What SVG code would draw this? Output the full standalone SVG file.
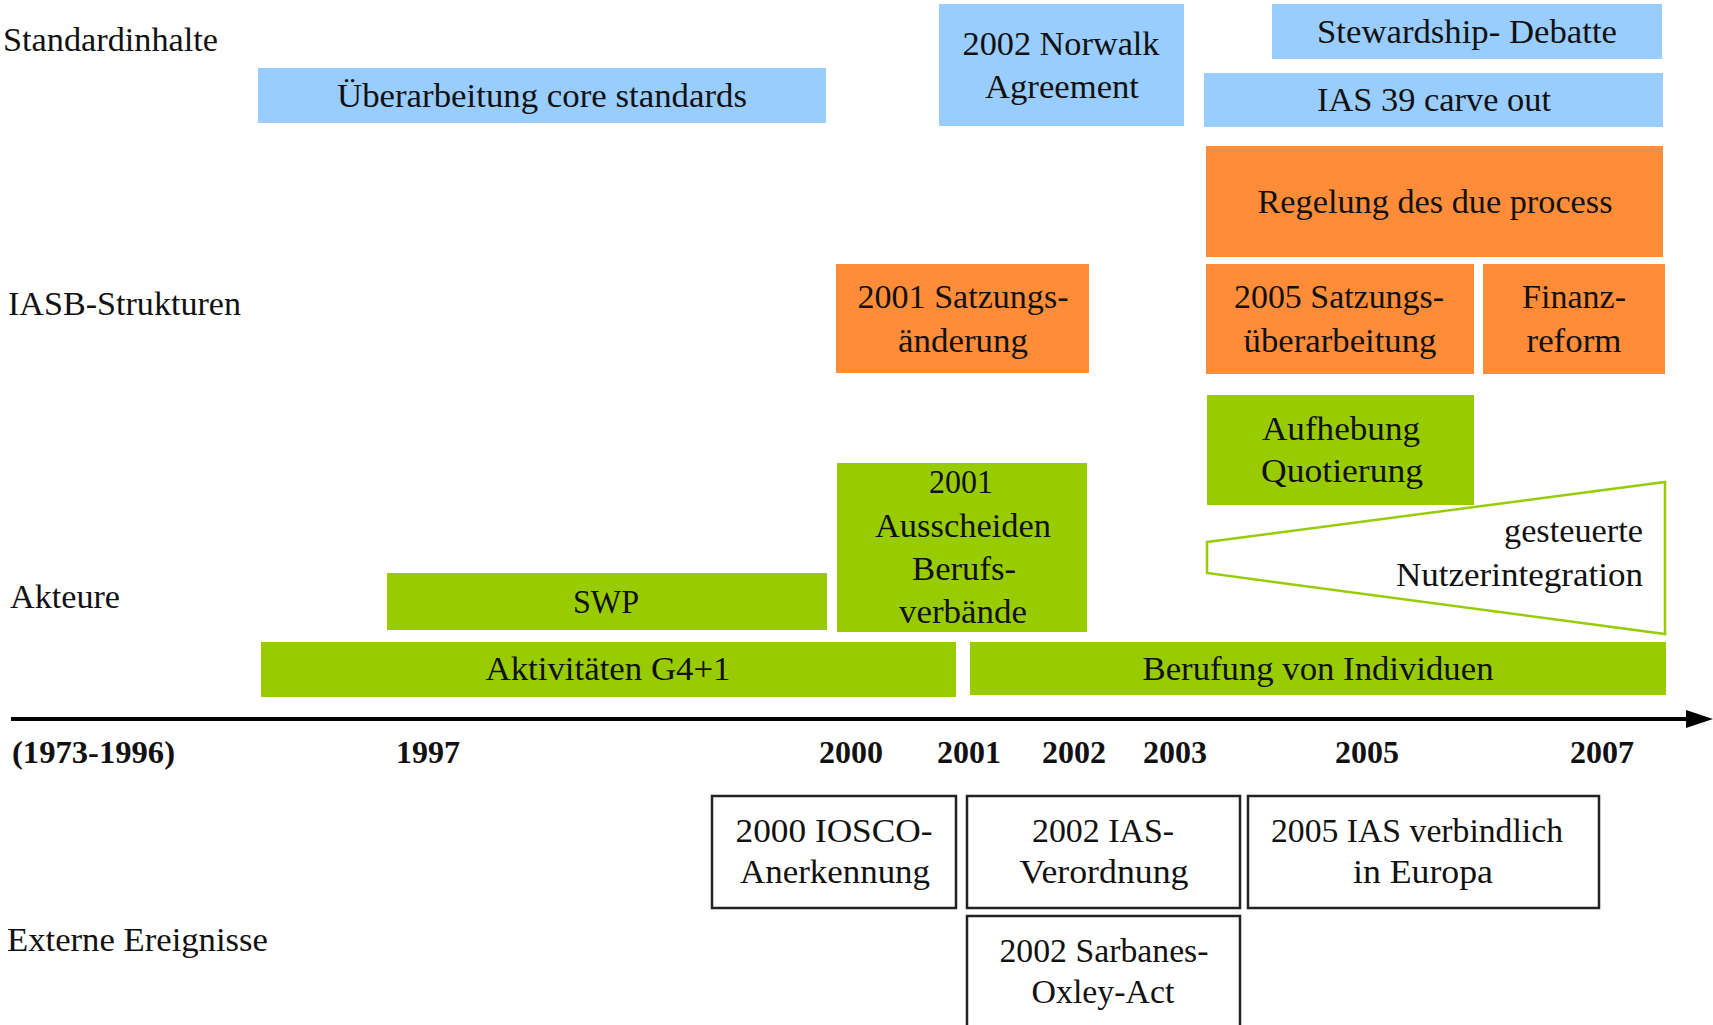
<svg xmlns="http://www.w3.org/2000/svg" width="1713" height="1025" viewBox="0 0 1713 1025" font-family="'Liberation Serif', 'DejaVu Serif', serif">
<style>
text{font-family:"Liberation Serif","DejaVu Serif",serif;font-size:34px;fill:#111}
.m{text-anchor:middle}
.e{text-anchor:end}
.y{font-weight:bold;font-size:32px;text-anchor:middle}
.blue{fill:#99CCFF}
.orange{fill:#FF8C38}
.green{fill:#99CC00}
.ext{fill:#fff;stroke:#222;stroke-width:2.5}
</style>
<defs>
<marker id="arrow" markerUnits="userSpaceOnUse" markerWidth="27" markerHeight="18" refX="14" refY="9" orient="auto">
<path d="M0,0 L27,9 L0,18 Z" fill="#000"/>
</marker>
</defs>
<rect width="1713" height="1025" fill="#fff"/>

<g id="labels">
<text x="3" y="51" textLength="215" lengthAdjust="spacingAndGlyphs">Standardinhalte</text>
<text x="8" y="315" textLength="233" lengthAdjust="spacingAndGlyphs">IASB-Strukturen</text>
<text x="10" y="608" textLength="110" lengthAdjust="spacingAndGlyphs">Akteure</text>
<text x="7" y="951" textLength="261" lengthAdjust="spacingAndGlyphs">Externe Ereignisse</text>
</g>

<g id="connectors">
<line x1="11" y1="719" x2="1700" y2="719" stroke="#000" stroke-width="4" marker-end="url(#arrow)"/>
</g>

<g id="years">
<text x="12" y="763" class="y" style="text-anchor:start" textLength="163" lengthAdjust="spacingAndGlyphs">(1973-1996)</text>
<text x="428" y="763" class="y">1997</text>
<text x="851" y="763" class="y">2000</text>
<text x="969" y="763" class="y">2001</text>
<text x="1074" y="763" class="y">2002</text>
<text x="1175" y="763" class="y">2003</text>
<text x="1367" y="763" class="y">2005</text>
<text x="1602" y="763" class="y">2007</text>
</g>

<g id="ueberarbeitung">
<rect x="258" y="68" width="568" height="55" class="blue"/>
<text x="542" y="107" class="m" textLength="410" lengthAdjust="spacingAndGlyphs">Überarbeitung core standards</text>
</g>
<g id="norwalk">
<rect x="939" y="4" width="245" height="122" class="blue"/>
<text x="1061" y="55" class="m" textLength="197" lengthAdjust="spacingAndGlyphs">2002 Norwalk</text>
<text x="1062" y="98" class="m" textLength="154" lengthAdjust="spacingAndGlyphs">Agreement</text>
</g>
<g id="stewardship">
<rect x="1272" y="4" width="390" height="55" class="blue"/>
<text x="1467" y="43" class="m" textLength="300" lengthAdjust="spacingAndGlyphs">Stewardship- Debatte</text>
</g>
<g id="ias39">
<rect x="1204" y="73" width="459" height="54" class="blue"/>
<text x="1434" y="111" class="m" textLength="234" lengthAdjust="spacingAndGlyphs">IAS 39 carve out</text>
</g>

<g id="dueprocess">
<rect x="1206" y="146" width="457" height="111" class="orange"/>
<text x="1435" y="213" class="m" textLength="355" lengthAdjust="spacingAndGlyphs">Regelung des due process</text>
</g>
<g id="satzung2001">
<rect x="836" y="264" width="253" height="109" class="orange"/>
<text x="963" y="308" class="m" textLength="211" lengthAdjust="spacingAndGlyphs">2001 Satzungs-</text>
<text x="963" y="352" class="m" textLength="130" lengthAdjust="spacingAndGlyphs">änderung</text>
</g>
<g id="satzung2005">
<rect x="1206" y="264" width="268" height="110" class="orange"/>
<text x="1339" y="308" class="m" textLength="210" lengthAdjust="spacingAndGlyphs">2005 Satzungs-</text>
<text x="1340" y="352" class="m" textLength="193" lengthAdjust="spacingAndGlyphs">überarbeitung</text>
</g>
<g id="finanzreform">
<rect x="1483" y="264" width="182" height="110" class="orange"/>
<text x="1574" y="308" class="m" textLength="104" lengthAdjust="spacingAndGlyphs">Finanz-</text>
<text x="1574" y="352" class="m" textLength="95" lengthAdjust="spacingAndGlyphs">reform</text>
</g>

<g id="quotierung">
<rect x="1207" y="395" width="267" height="110" class="green"/>
<text x="1341" y="440" class="m" textLength="158" lengthAdjust="spacingAndGlyphs">Aufhebung</text>
<text x="1342" y="482" class="m" textLength="162" lengthAdjust="spacingAndGlyphs">Quotierung</text>
</g>
<g id="ausscheiden">
<rect x="837" y="463" width="250" height="169" class="green"/>
<text x="961" y="493" class="m" textLength="64" lengthAdjust="spacingAndGlyphs">2001</text>
<text x="963" y="537" class="m" textLength="176" lengthAdjust="spacingAndGlyphs">Ausscheiden</text>
<text x="964" y="580" class="m" textLength="104" lengthAdjust="spacingAndGlyphs">Berufs-</text>
<text x="963" y="623" class="m" textLength="128" lengthAdjust="spacingAndGlyphs">verbände</text>
</g>
<g id="nutzerintegration">
<polygon points="1207,542 1665,482 1665,634 1207,573" fill="#fff" stroke="#99CC00" stroke-width="2.5"/>
<text x="1643" y="542" class="e" textLength="139" lengthAdjust="spacingAndGlyphs">gesteuerte</text>
<text x="1643" y="586" class="e" textLength="247" lengthAdjust="spacingAndGlyphs">Nutzerintegration</text>
</g>
<g id="swp">
<rect x="387" y="573" width="440" height="57" class="green"/>
<text x="606" y="613" class="m" textLength="66" lengthAdjust="spacingAndGlyphs">SWP</text>
</g>
<g id="g4plus1">
<rect x="261" y="642" width="695" height="55" class="green"/>
<text x="608" y="680" class="m" textLength="245" lengthAdjust="spacingAndGlyphs">Aktivitäten G4+1</text>
</g>
<g id="individuen">
<rect x="970" y="642" width="696" height="53" class="green"/>
<text x="1318" y="680" class="m" textLength="351" lengthAdjust="spacingAndGlyphs">Berufung von Individuen</text>
</g>

<g id="iosco">
<rect x="712" y="796" width="244" height="112" class="ext"/>
<text x="834" y="842" class="m" textLength="197" lengthAdjust="spacingAndGlyphs">2000 IOSCO-</text>
<text x="835" y="883" class="m" textLength="190" lengthAdjust="spacingAndGlyphs">Anerkennung</text>
</g>
<g id="iasverordnung">
<rect x="967" y="796" width="273" height="112" class="ext"/>
<text x="1103" y="842" class="m" textLength="142" lengthAdjust="spacingAndGlyphs">2002 IAS-</text>
<text x="1104" y="883" class="m" textLength="169" lengthAdjust="spacingAndGlyphs">Verordnung</text>
</g>
<g id="europa">
<rect x="1248" y="796" width="351" height="112" class="ext"/>
<text x="1417" y="842" class="m" textLength="292" lengthAdjust="spacingAndGlyphs">2005 IAS verbindlich</text>
<text x="1423" y="883" class="m" textLength="140" lengthAdjust="spacingAndGlyphs">in Europa</text>
</g>
<g id="sarbanes">
<rect x="967" y="916" width="273" height="125" class="ext"/>
<text x="1104" y="962" class="m" textLength="209" lengthAdjust="spacingAndGlyphs">2002 Sarbanes-</text>
<text x="1103" y="1003" class="m" textLength="143" lengthAdjust="spacingAndGlyphs">Oxley-Act</text>
</g>
</svg>
